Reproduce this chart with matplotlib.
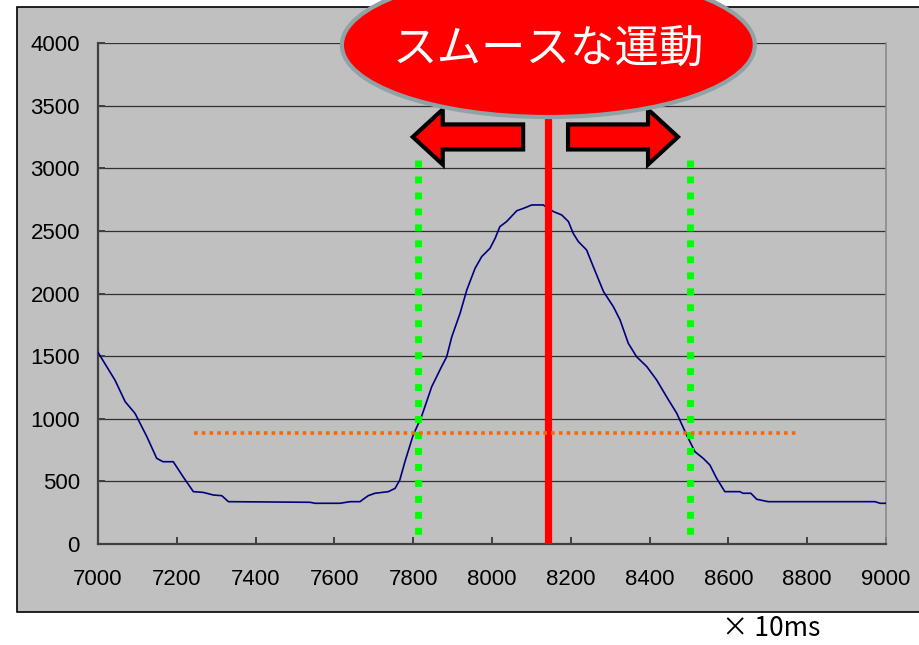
import matplotlib
matplotlib.use("Agg")
import matplotlib.pyplot as plt
from matplotlib.patches import Ellipse, Polygon, Rectangle

# 位置データ (x: 時刻 ×10ms, y: 値)
t = [7000, 7043, 7069, 7094, 7124, 7149, 7165, 7191, 7216, 7242, 7267, 7293, 7314, 7331,
     7538, 7551, 7614, 7640, 7665, 7673, 7686, 7703, 7737, 7754, 7766, 7779, 7800, 7821,
     7847, 7872, 7885, 7898, 7919, 7936, 7957, 7974, 7995, 8008, 8020, 8037, 8063, 8080,
     8101, 8130, 8156, 8177, 8194, 8206, 8219, 8240, 8257, 8283, 8308, 8325, 8346, 8367,
     8393, 8418, 8443, 8469, 8494, 8515, 8536, 8553, 8570, 8591, 8629, 8637, 8657, 8672,
     8701, 8972, 8985, 9000]
val = [1530, 1309, 1136, 1043, 857, 684, 657, 657, 537, 418, 412, 391, 386, 338,
       333, 325, 325, 338, 338, 357, 386, 405, 418, 444, 511, 657, 870, 1016,
       1256, 1416, 1495, 1655, 1842, 2028, 2201, 2295, 2361, 2441, 2534, 2574, 2661, 2680,
       2707, 2707, 2654, 2627, 2574, 2481, 2415, 2348, 2215, 2015, 1895, 1789, 1602, 1495,
       1416, 1309, 1176, 1043, 870, 737, 684, 631, 525, 418, 418, 405, 405, 357,
       338, 338, 325, 325]

# 注釈
peak_t = 8143          # 赤線 (中心)
start_t = 7812         # 緑点線 (開始)
end_t = 8502           # 緑点線 (終了)
thresh = 884           # オレンジ点線 (しきい値)
thresh_range = (7244, 8777)
label = "スムースな運動"
unit_label = "× 10ms"

xticks = list(range(7000, 9001, 200))
yticks = list(range(0, 4001, 500))

GRAY = "#C0C0C0"
tick_font = ["Liberation Sans", "DejaVu Sans"]
jp_font = ["Noto Sans CJK JP", "DejaVu Sans"]

fig = plt.figure(figsize=(9.2, 6.45), dpi=100)
fig.patches.append(Rectangle((17 / 920, 33 / 645), 1.0, 605 / 645, transform=fig.transFigure,
                             facecolor=GRAY, edgecolor="black", lw=1.2, zorder=0))
ax = fig.add_axes([98 / 920, 101 / 645, 788 / 920, 501 / 645])
ax.set_zorder(2)
ax.set_facecolor(GRAY)

ax.set_xlim(7000, 9000)
ax.set_ylim(0, 4000)
ax.set_xticks(xticks)
ax.set_yticks(yticks)
for y in yticks[1:]:
    ax.axhline(y, color="#303030", lw=0.9, zorder=1)

for s in ["left", "bottom"]:
    ax.spines[s].set_color("#404040")
    ax.spines[s].set_linewidth(1.6)
ax.spines["right"].set_color("#8a8a8a")
ax.spines["right"].set_linewidth(1.2)
ax.spines["top"].set_visible(False)
ax.tick_params(direction="in", length=5, width=1.4, color="#404040")
ax.tick_params(axis="y", pad=13)
ax.tick_params(axis="x", pad=18)
for lab in ax.get_xticklabels() + ax.get_yticklabels():
    lab.set_family(tick_font)
    lab.set_fontsize(16)

ax.plot(t, val, color="#000080", lw=1.2, zorder=3)

# 赤い縦線
ax.plot([peak_t, peak_t], [0, 3800], color="red", lw=5.2, solid_capstyle="butt", zorder=4)

# 緑の点線
for xg in [start_t, end_t]:
    ax.plot([xg, xg], [3066, 56], color="#00FF00", lw=5.0,
            dashes=(1, 1.3), dash_capstyle="butt", zorder=4)

# オレンジの点線
ax.plot(list(thresh_range), [thresh, thresh], color="#FF6600", lw=2.6,
        dashes=(1, 1.15), dash_capstyle="butt", zorder=4)

# 左右の矢印
def block_arrow(tail, tip, yc, head_len=76, head_h=220, shaft_h=100):
    d = 1 if tip > tail else -1
    hb = tip - d * head_len
    pts = [(tail, yc - shaft_h), (hb, yc - shaft_h), (hb, yc - head_h), (tip, yc),
           (hb, yc + head_h), (hb, yc + shaft_h), (tail, yc + shaft_h)]
    return Polygon(pts, closed=True, facecolor="red", edgecolor="black", lw=3,
                   joinstyle="miter", zorder=5)

ax.add_patch(block_arrow(8079, 7799, 3250))
ax.add_patch(block_arrow(8193, 8472, 3250))

# 楕円のラベル
ax.add_patch(Ellipse((peak_t, 3984), 1048, 1150, facecolor="red", edgecolor="#8FA3A6",
                     lw=3, clip_on=False, zorder=6))
ax.text(peak_t, 3952, label, color="white", fontsize=32, family=jp_font,
        ha="center", va="center", zorder=7, clip_on=False)

fig.text(722 / 920, 3 / 645, unit_label, fontsize=19, family=jp_font,
         ha="left", va="bottom")

fig.savefig("out.png", dpi=100)
